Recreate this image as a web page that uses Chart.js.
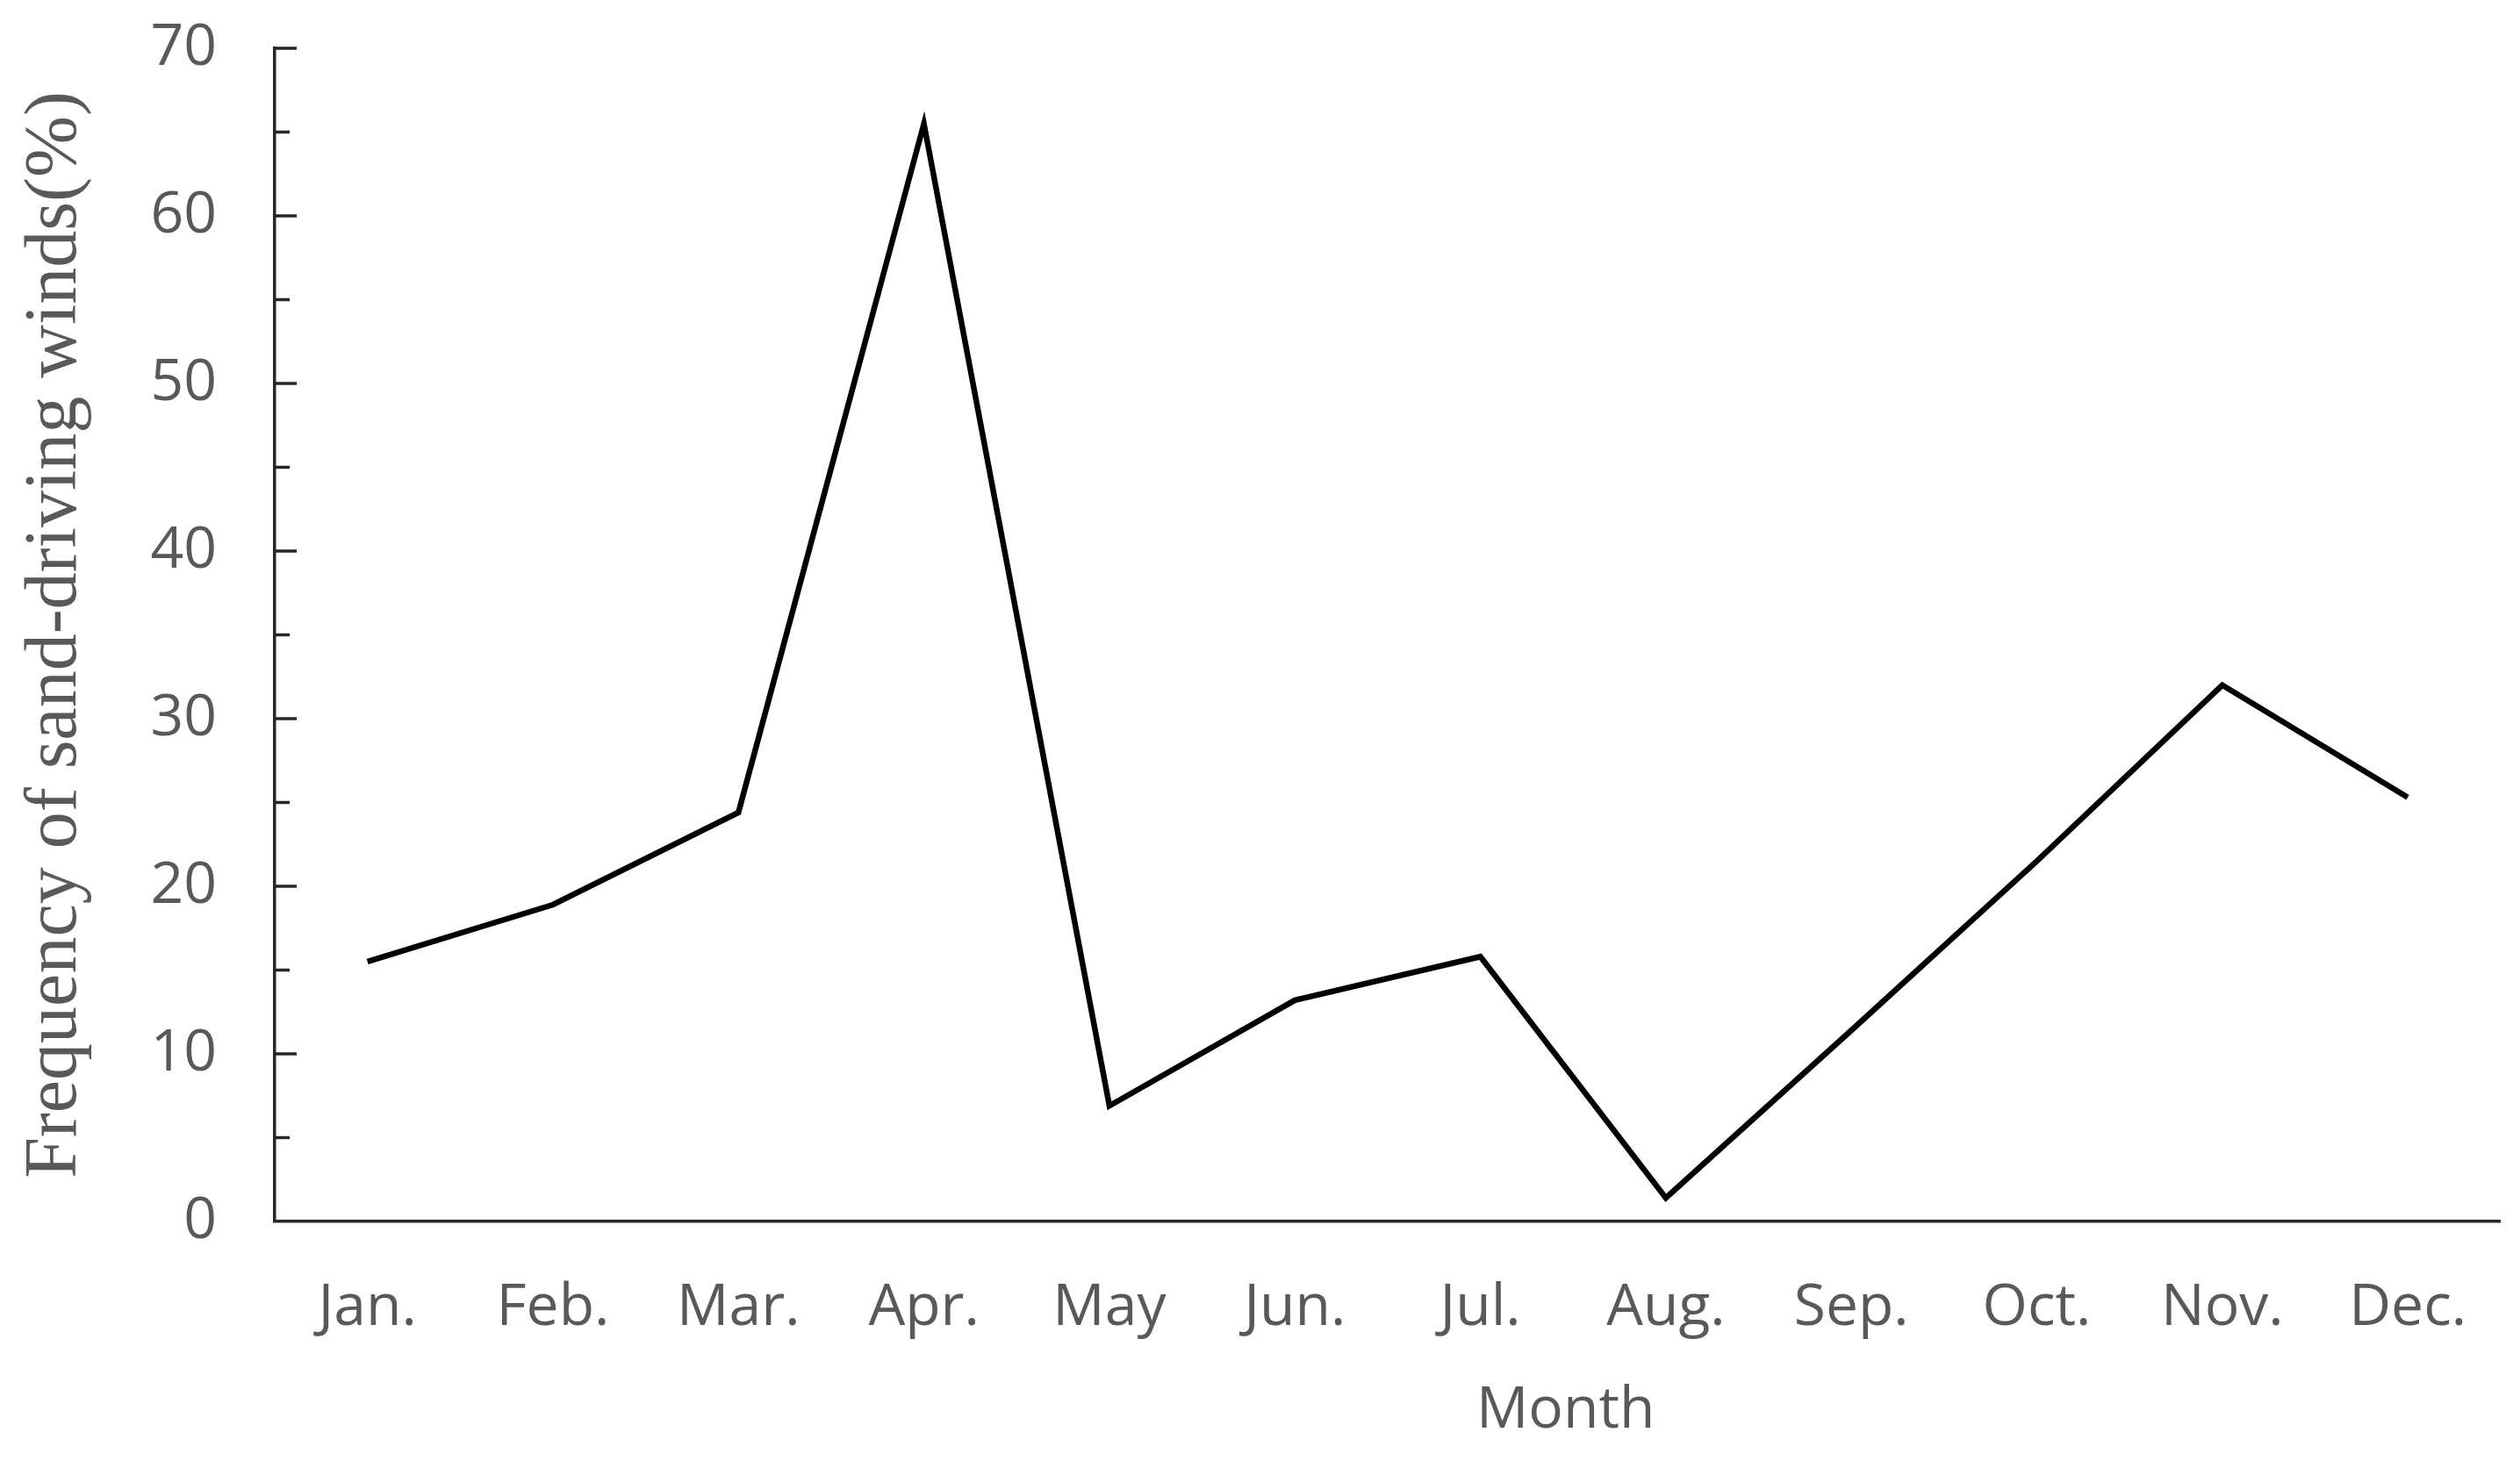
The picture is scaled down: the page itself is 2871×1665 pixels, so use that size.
<!DOCTYPE html>
<html>
<head>
<meta charset="utf-8">
<script src="https://cdn.jsdelivr.net/npm/chart.js@4"></script>
<style>
  html, body { margin: 0; padding: 0; background: #fff; }
  #wrap { width: 2871px; height: 1665px; }
</style>
</head>
<body>
<div id="wrap"><canvas id="wind-chart"></canvas></div>
<script>
const months = ['Jan.', 'Feb.', 'Mar.', 'Apr.', 'May', 'Jun.', 'Jul.', 'Aug.', 'Sep.', 'Oct.', 'Nov.', 'Dec.'];
const frequency = [15.5, 18.9, 24.4, 65.5, 6.9, 13.2, 15.8, 1.4, 11.4, 21.5, 32.0, 25.3];
const yTickValues = [0, 10, 20, 30, 40, 50, 60, 70];
const yMinorValues = [5, 15, 25, 35, 45, 55, 65];
const xTitle = 'Month';

const labelGrey = '#595959';
const axisColor = '#262626';

// small tick marks pointing into the plot, like the original
const innerTicks = {
  id: 'innerTicks',
  afterDraw(chart) {
    const y = chart.scales.y;
    const c = chart.ctx;
    c.save();
    c.strokeStyle = axisColor;
    c.lineWidth = 3.5;
    const drawTick = (v, len) => {
      const py = y.getPixelForValue(v);
      c.beginPath();
      c.moveTo(y.right, py);
      c.lineTo(y.right + len, py);
      c.stroke();
    };
    yTickValues.slice(1).forEach(v => drawTick(v, 25));
    yMinorValues.forEach(v => drawTick(v, 17));
    c.restore();
  }
};

// x title sits right of centre in the original
const monthTitle = {
  id: 'monthTitle',
  afterDraw(chart) {
    const area = chart.chartArea;
    const c = chart.ctx;
    c.save();
    c.fillStyle = labelGrey;
    c.font = '66px "Open Sans"';
    c.textAlign = 'center';
    c.textBaseline = 'middle';
    c.fillText(xTitle, area.left + (area.right - area.left) * 0.58, 1608);
    c.restore();
  }
};

const ctx = document.getElementById('wind-chart').getContext('2d');

const windChart = new Chart(ctx, {
  type: 'line',
  data: {
    labels: months,
    datasets: [
      {
        label: 'Frequency',
        data: frequency,
        borderColor: '#000',
        borderWidth: 6.5,
        pointRadius: 0,
        tension: 0,
        fill: false
      }
    ]
  },
  options: {
    responsive: true,
    maintainAspectRatio: false,
    animation: false,
    layout: {
      padding: { top: 55, right: 22, left: 0, bottom: 0 }
    },
    plugins: {
      legend: { display: false },
      tooltip: { enabled: false }
    },
    scales: {
      x: {
        type: 'category',
        offset: true,
        grid: { display: false, drawTicks: false },
        border: { display: true, color: axisColor, width: 3.5 },
        ticks: {
          color: labelGrey,
          padding: 60,
          font: { family: 'Open Sans', size: 66 }
        },
        afterFit(scale) {
          scale.height = 273;
        }
      },
      y: {
        min: 0,
        max: 70,
        // invisible outside ticks just to push the labels away from the axis
        grid: { display: true, drawOnChartArea: false, drawTicks: true, tickLength: 66, color: 'transparent' },
        border: { display: true, color: axisColor, width: 3.5 },
        ticks: {
          stepSize: 10,
          color: labelGrey,
          padding: 0,
          font: { family: 'Open Sans', size: 66 }
        },
        title: {
          display: true,
          text: 'Frequency of sand-driving winds(%)',
          color: labelGrey,
          font: { family: 'Liberation Serif', size: 84 },
          padding: { top: 14, bottom: 0 }
        },
        afterFit(scale) {
          scale.width = 313;
        }
      }
    }
  },
  plugins: [innerTicks, monthTitle]
});
</script>
</body>
</html>
